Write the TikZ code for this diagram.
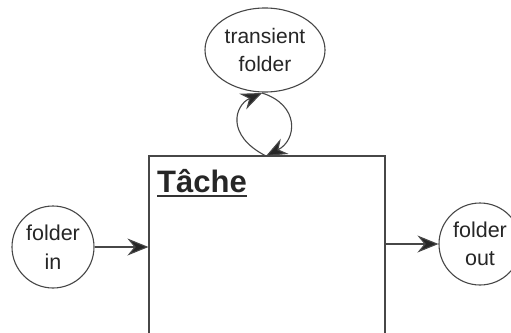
\documentclass[tikz,border=0pt]{standalone}
\usepackage{fontspec}
\setmainfont{Liberation Sans}
\usetikzlibrary{arrows.meta,shapes.geometric}
\begin{document}
\begin{tikzpicture}[x=1pt,y=-1pt,
  ln/.style={line width=1.1pt, draw=black!72},
  folder/.style={ln, circle, minimum size=82pt, inner sep=0pt, align=center,
    font=\fontsize{21.5}{28.5}\selectfont, text=black!85},
  arr/.style={ln, -{Stealth[length=21pt,width=17pt,inset=7pt,fill=black!85]}}]
\clip (0,0) rectangle (511,332);
\fill[white] (0,0) rectangle (511,332);
\node[ln, draw, minimum width=236pt, minimum height=190pt, inner sep=0pt] (box) at (267,251) {};
\node[folder, draw] (in) at (53,247) {folder\\in};
\node[folder, draw] (out) at (480,244) {folder\\out};
\node[ln, draw, ellipse, minimum width=120pt, minimum height=84pt, inner sep=0pt, align=center,
  font=\fontsize{21}{28.5}\selectfont, text=black!85] (tr) at (265,50) {transient\\folder};
\node[anchor=base west, inner sep=0pt, font=\fontsize{31}{31}\bfseries\selectfont, text=black!85] (t) at (157,192) {Tâche};
\draw[line width=2pt, black!80] ([yshift=-4pt]t.base west) -- ([yshift=-4pt]t.base east);
\coordinate (bt) at (266,156);
\coordinate (eb) at (262,93);
\draw[arr] (bt) .. controls (225,135) and (235,105) .. (eb);
\draw[arr] (eb) .. controls (300,105) and (297,140) .. (bt);
\draw[arr] (in.east) -- (in.east -| box.west);
\draw[arr] (box.east |- out.west) -- (out.west);
\end{tikzpicture}
\end{document}
